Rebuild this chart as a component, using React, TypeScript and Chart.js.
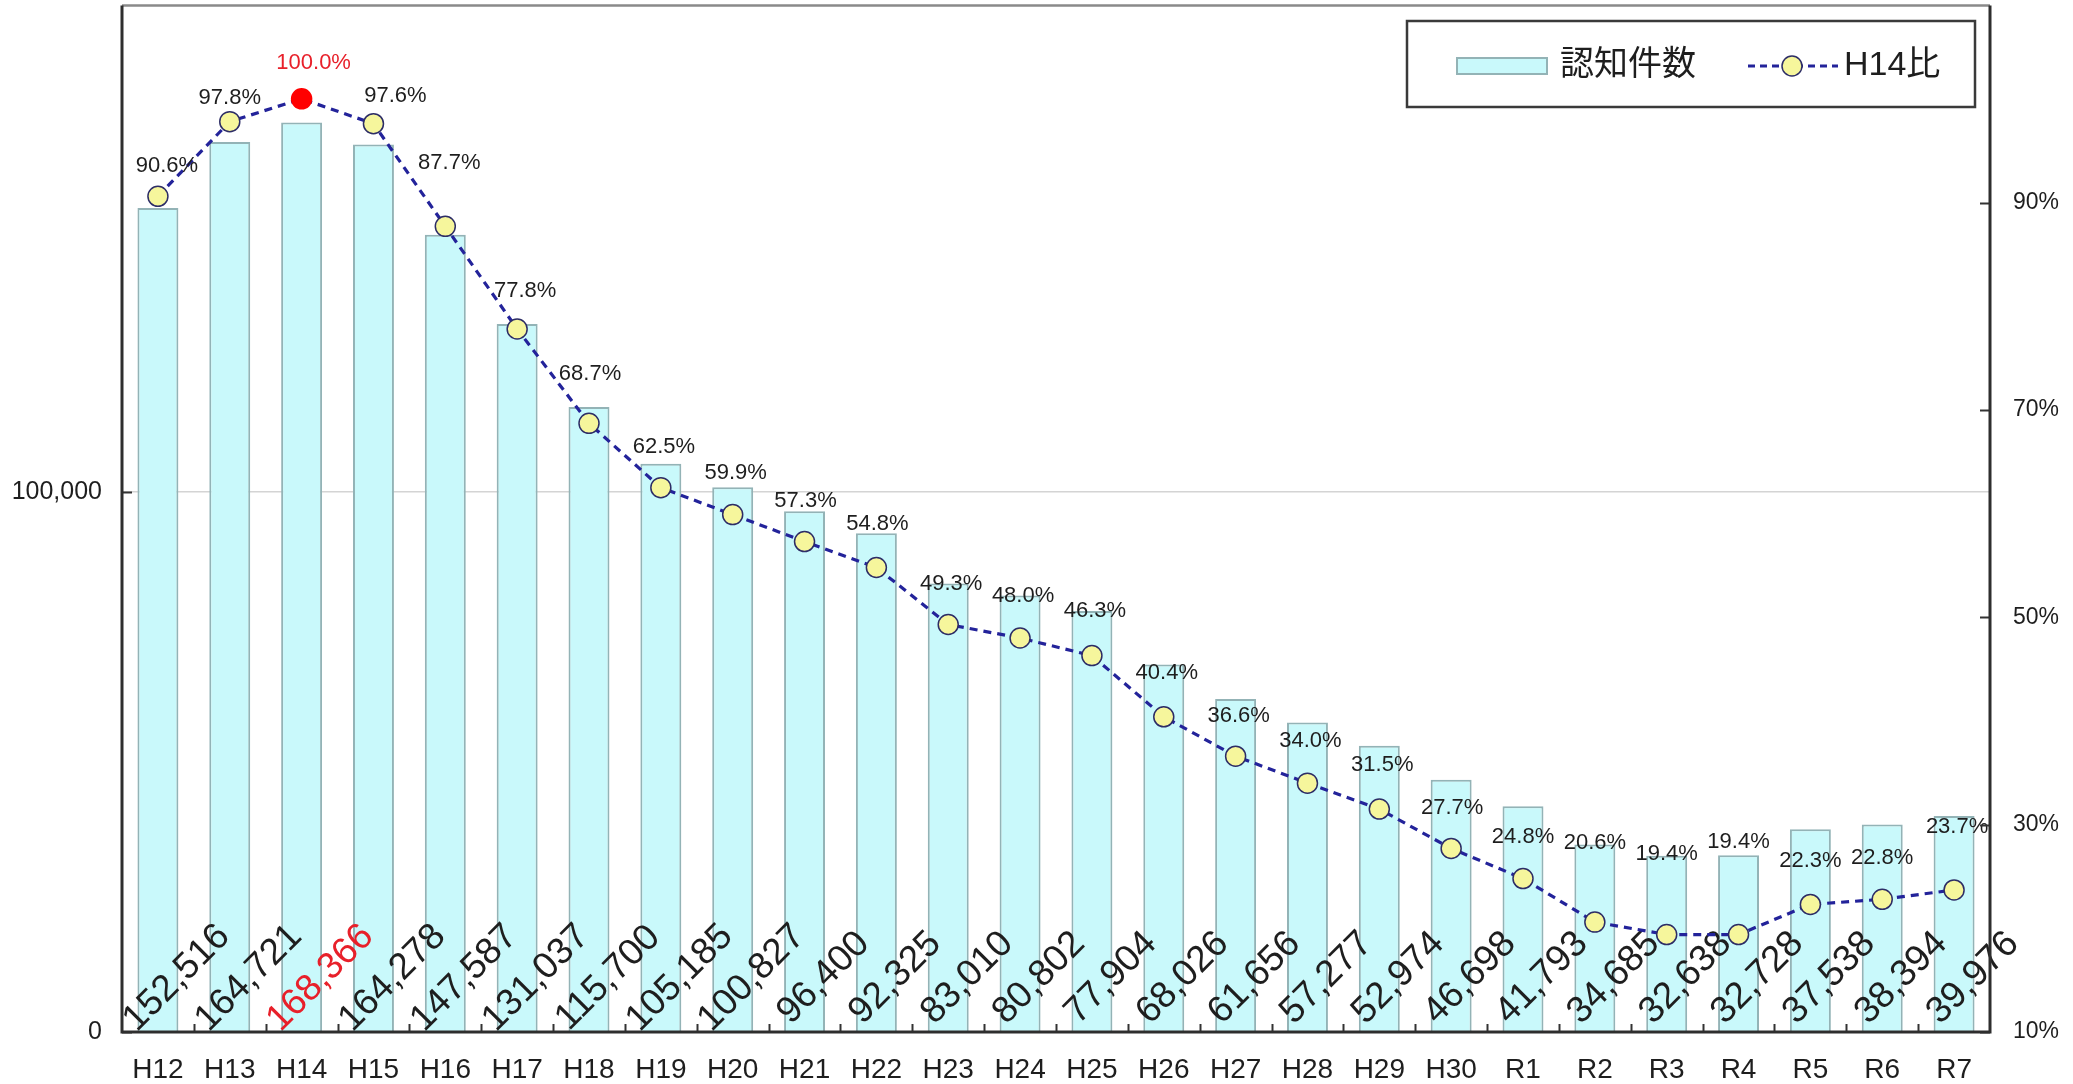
import React, { useEffect, useRef } from "react";
import { Chart, registerables } from "chart.js";

Chart.register(...registerables);

const categories = [
  "H12", "H13", "H14", "H15", "H16", "H17", "H18", "H19", "H20", "H21",
  "H22", "H23", "H24", "H25", "H26", "H27", "H28", "H29", "H30",
  "R1", "R2", "R3", "R4", "R5", "R6", "R7",
];

const counts = [
  152516, 164721, 168366, 164278, 147587, 131037, 115700, 105185, 100827, 96400,
  92325, 83010, 80802, 77904, 68026, 61656, 57277, 52974, 46698,
  41793, 34685, 32638, 32728, 37538, 38394, 39976,
];

const ratios = [
  90.6, 97.8, 100.0, 97.6, 87.7, 77.8, 68.7, 62.5, 59.9, 57.3,
  54.8, 49.3, 48.0, 46.3, 40.4, 36.6, 34.0, 31.5, 27.7,
  24.8, 20.6, 19.4, 19.4, 22.3, 22.8, 23.7,
];

const leftTicks = [0, 100000];
const rightTicks = [10, 30, 50, 70, 90];
const highlightIndex = 2;

const seriesNames = ["認知件数", "H14比"];

// label placement offsets (px) for the ratio labels relative to their points
const ratioLabelDx = [9, 0, 12, 22, 4, 8, 1, 3, 3, 1, 1, 3, 3, 3, 3, 3, 3, 3, 1, 0, 0, 0, 0, 0, 0, 3];
const ratioLabelDy = [-30, -24, -36, -28, -63, -38, -49, -41, -42, -41, -44, -41, -42, -45, -44, -40, -42, -44, -41, -42, -79, -81, -93, -44, -41, -63];

const BAR_FILL = "#c9f9fb";
const BAR_EDGE = "#93b3b6";
const LINE_COLOR = "#23239a";
const POINT_FILL = "#f6f69c";
const POINT_EDGE = "#2d2d66";
const RED = "#e8202a";
const TEXT = "#1e1e1e";
const LATIN = "'Liberation Sans', Arial, sans-serif";
const CJK = "'Liberation Sans', 'Noto Sans CJK JP', sans-serif";

const SHIFT = 6; // canvas is raised by this many px on the page
const W = 2073;
const H = 1084 + SHIFT;

const noPad = (s: any) => {
  s.paddingTop = 0;
  s.paddingBottom = 0;
  s.paddingLeft = 0;
  s.paddingRight = 0;
};

const decor = {
  id: "decor",
  afterDatasetDraw(chart: any, args: any) {
    if (args.index !== 0) return;
    const ctx = chart.ctx;
    const y = chart.scales.y;
    const meta = chart.getDatasetMeta(0);
    ctx.save();
    ctx.font = `37px ${LATIN}`;
    ctx.textAlign = "center";
    ctx.textBaseline = "middle";
    meta.data.forEach((bar: any, i: number) => {
      const cx = bar.x + 19;
      const cy = y.getPixelForValue(0) - 54;
      ctx.save();
      ctx.translate(cx, cy);
      ctx.rotate(-Math.PI / 4);
      ctx.fillStyle = i === highlightIndex ? RED : TEXT;
      ctx.fillText(counts[i].toLocaleString("en-US"), 0, 0);
      ctx.restore();
    });
    ctx.restore();
  },
  afterDraw(chart: any) {
    const ctx = chart.ctx;
    const { left, right, top, bottom } = chart.chartArea;
    const y = chart.scales.y;
    const y1 = chart.scales.y1;
    ctx.save();

    // ratio labels
    const lineMeta = chart.getDatasetMeta(1);
    ctx.font = `22px ${LATIN}`;
    ctx.textAlign = "center";
    ctx.textBaseline = "middle";
    lineMeta.data.forEach((pt: any, i: number) => {
      ctx.fillStyle = i === highlightIndex ? RED : TEXT;
      ctx.fillText(ratios[i].toFixed(1) + "%", pt.x + ratioLabelDx[i], pt.y + ratioLabelDy[i]);
    });

    // inward tick marks
    ctx.strokeStyle = "#333";
    ctx.lineWidth = 2;
    const step = (right - left) / categories.length;
    for (let i = 1; i < categories.length; i++) {
      const px = Math.round(left + step * i) + 0.5;
      ctx.beginPath();
      ctx.moveTo(px, bottom);
      ctx.lineTo(px, bottom - 8);
      ctx.stroke();
    }
    leftTicks.forEach((v) => {
      const py = Math.round(y.getPixelForValue(v)) + 0.5;
      ctx.beginPath();
      ctx.moveTo(left, py);
      ctx.lineTo(left + 10, py);
      ctx.stroke();
    });
    rightTicks.forEach((v) => {
      const py = Math.round(y1.getPixelForValue(v)) + 0.5;
      ctx.beginPath();
      ctx.moveTo(right, py);
      ctx.lineTo(right - 10, py);
      ctx.stroke();
    });

    // frame
    ctx.strokeStyle = "#8a8a8a";
    ctx.lineWidth = 2.5;
    ctx.beginPath();
    ctx.moveTo(left, top);
    ctx.lineTo(right, top);
    ctx.stroke();
    ctx.strokeStyle = "#2e2e2e";
    ctx.lineWidth = 3;
    ctx.beginPath();
    ctx.moveTo(left, top);
    ctx.lineTo(left, bottom);
    ctx.lineTo(right, bottom);
    ctx.lineTo(right, top);
    ctx.stroke();

    // legend
    const lx = 1407, ly = 21 + SHIFT, lw = 568, lh = 86;
    ctx.fillStyle = "#ffffff";
    ctx.fillRect(lx, ly, lw, lh);
    ctx.strokeStyle = "#3a3a3a";
    ctx.lineWidth = 2.5;
    ctx.strokeRect(lx, ly, lw, lh);
    const my = ly + lh / 2 + 2;
    ctx.fillStyle = BAR_FILL;
    ctx.fillRect(1457, my - 8, 90, 16);
    ctx.strokeStyle = BAR_EDGE;
    ctx.lineWidth = 2;
    ctx.strokeRect(1457, my - 8, 90, 16);
    ctx.font = `34px ${CJK}`;
    ctx.fillStyle = TEXT;
    ctx.textAlign = "left";
    ctx.textBaseline = "middle";
    ctx.fillText(seriesNames[0], 1560, my);
    ctx.strokeStyle = LINE_COLOR;
    ctx.lineWidth = 3;
    ctx.setLineDash([7, 5]);
    ctx.beginPath();
    ctx.moveTo(1748, my);
    ctx.lineTo(1838, my);
    ctx.stroke();
    ctx.setLineDash([]);
    ctx.beginPath();
    ctx.arc(1792, my, 10, 0, Math.PI * 2);
    ctx.fillStyle = POINT_FILL;
    ctx.fill();
    ctx.strokeStyle = POINT_EDGE;
    ctx.lineWidth = 1.5;
    ctx.stroke();
    ctx.fillStyle = TEXT;
    ctx.fillText(seriesNames[1], 1844, my);

    ctx.restore();
  },
};

export default function App() {
  const ref = useRef<HTMLCanvasElement | null>(null);

  useEffect(() => {
    if (!ref.current) return;
    const chart = new Chart(ref.current, {
      type: "bar",
      data: {
        labels: categories,
        datasets: [
          {
            type: "bar",
            label: seriesNames[0],
            data: counts,
            yAxisID: "y",
            backgroundColor: BAR_FILL,
            borderColor: BAR_EDGE,
            borderWidth: 2,
            barPercentage: 0.57,
            categoryPercentage: 1,
            order: 2,
          },
          {
            type: "line",
            label: seriesNames[1],
            data: ratios,
            yAxisID: "y1",
            borderColor: LINE_COLOR,
            borderWidth: 3.2,
            borderDash: [8, 6],
            tension: 0,
            pointRadius: 10,
            pointBorderWidth: 1.5,
            pointBackgroundColor: ratios.map((_, i) => (i === highlightIndex ? "#ff0000" : POINT_FILL)),
            pointBorderColor: ratios.map((_, i) => (i === highlightIndex ? "#ff0000" : POINT_EDGE)),
            order: 1,
          },
        ],
      },
      options: {
        responsive: false,
        animation: false,
        layout: { padding: { top: 0, left: 0, right: 0, bottom: 0 } },
        plugins: {
          legend: { display: false },
          tooltip: { enabled: false },
        },
        scales: {
          x: {
            grid: { display: false },
            border: { display: false },
            ticks: {
              color: TEXT,
              font: { family: LATIN, size: 28 },
              padding: 13,
              maxRotation: 0,
              autoSkip: false,
            },
            afterFit: (s: any) => {
              s.height = 52;
              noPad(s);
            },
          },
          y: {
            position: "left",
            min: 0,
            max: 190000,
            afterBuildTicks: (s: any) => {
              s.ticks = leftTicks.map((v) => ({ value: v }));
            },
            grid: {
              drawTicks: false,
              color: (c: any) => (c.tick && c.tick.value === 100000 ? "#d4d4d4" : "rgba(0,0,0,0)"),
              lineWidth: 1.5,
            },
            border: { display: false },
            ticks: {
              color: TEXT,
              font: { family: LATIN, size: 25 },
              padding: 20,
              callback: (v: any) => Number(v).toLocaleString("en-US"),
            },
            afterFit: (s: any) => {
              s.width = 122;
              noPad(s);
            },
          },
          y1: {
            position: "right",
            min: 10,
            max: 109,
            afterBuildTicks: (s: any) => {
              s.ticks = rightTicks.map((v) => ({ value: v }));
            },
            grid: { display: false, drawOnChartArea: false, drawTicks: false },
            border: { display: false },
            ticks: {
              color: TEXT,
              font: { family: LATIN, size: 23 },
              padding: 23,
              callback: (v: any) => `${v}%`,
            },
            afterFit: (s: any) => {
              s.width = 83;
              noPad(s);
            },
          },
        },
      },
      plugins: [decor],
    });
    return () => chart.destroy();
  }, []);

  return (
    <div style={{ position: "absolute", left: 0, top: 0, width: W, height: 1084, overflow: "hidden", background: "#fff" }}>
      <canvas ref={ref} width={W} height={H} style={{ display: "block", marginTop: -SHIFT }} />
    </div>
  );
}
